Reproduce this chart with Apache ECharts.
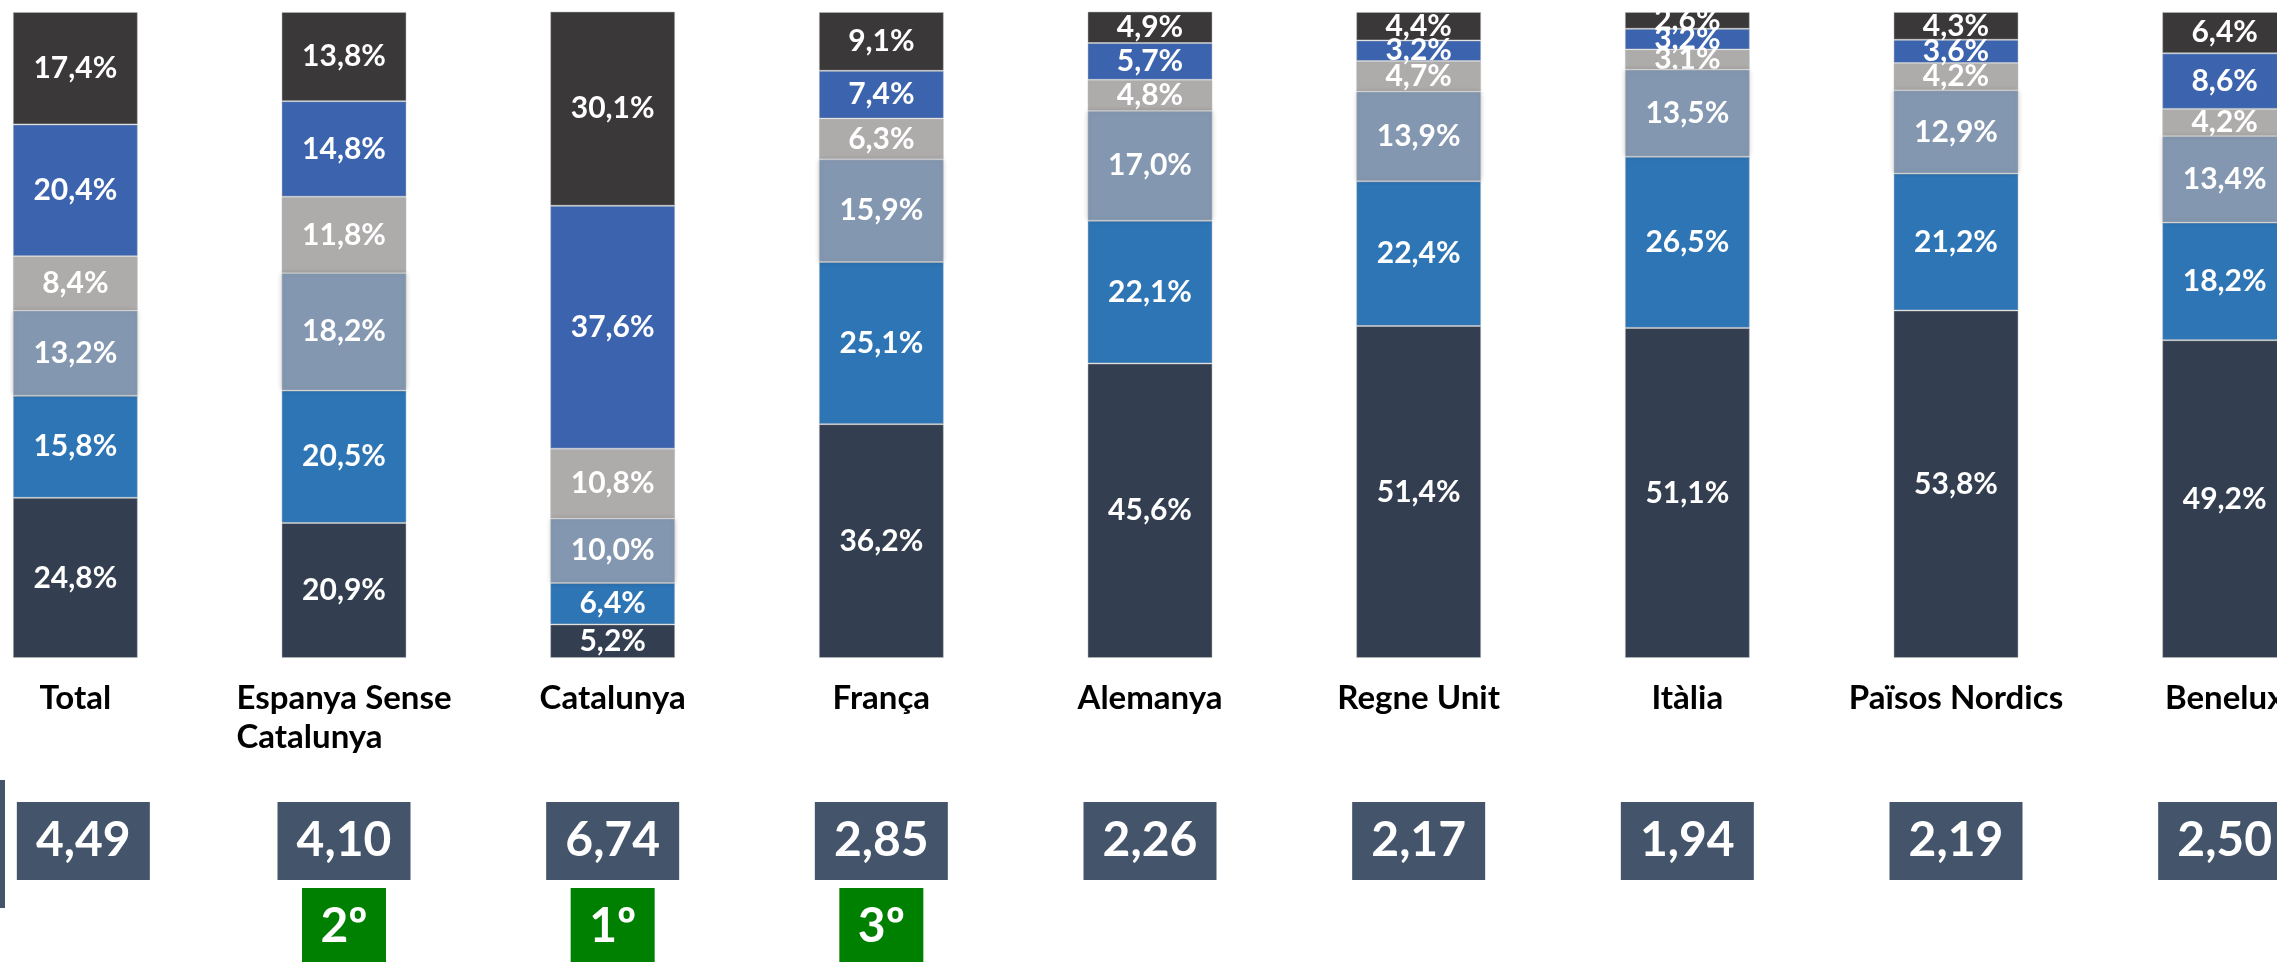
<!DOCTYPE html>
<html>
<head>
<meta charset="utf-8">
<script src="https://cdn.jsdelivr.net/npm/echarts@6/dist/echarts.min.js"></script>
<style>
  html, body { margin: 0; padding: 0; background: #fff; }
  #chart { width: 2277px; height: 962px; }
</style>
</head>
<body>
<div id="chart"></div>
<script>
// categories (países / regions)
const categories = ['Total', 'Espanya Sense\nCatalunya', 'Catalunya', 'França', 'Alemanya',
  'Regne Unit', 'Itàlia', 'Països Nordics', 'Benelux'];

// stacked shares, from the bottom segment to the top one
const seg1 = [24.8, 20.9, 5.2, 36.2, 45.6, 51.4, 51.1, 53.8, 49.2];
const seg2 = [15.8, 20.5, 6.4, 25.1, 22.1, 22.4, 26.5, 21.2, 18.2];
const seg3 = [13.2, 18.2, 10.0, 15.9, 17.0, 13.9, 13.5, 12.9, 13.4];
const seg4 = [8.4, 11.8, 10.8, 6.3, 4.8, 4.7, 3.1, 4.2, 4.2];
const seg5 = [20.4, 14.8, 37.6, 7.4, 5.7, 3.2, 3.2, 3.6, 8.6];
const seg6 = [17.4, 13.8, 30.1, 9.1, 4.9, 4.4, 2.6, 4.3, 6.4];

// index under each bar and ranking badges
const ratios = [4.49, 4.10, 6.74, 2.85, 2.26, 2.17, 1.94, 2.19, 2.50];
const ranks = [null, 2, 1, 3, null, null, null, null, null];

const colors = ['#333F50', '#2E75B6', '#8497B0', '#AEABAB', '#3C64AE', '#3A3838'];
const FONT = 'Lato, "Open Sans", sans-serif';

const comma = (v, d) => v.toFixed(d).replace('.', ',');

const chart = echarts.init(document.getElementById('chart'));

function makeSeries(data, i) {
  const s = {
    type: 'bar',
    stack: 'total',
    data: data,
    barWidth: 125,
    xAxisIndex: 0,
    yAxisIndex: 0,
    itemStyle: {
      color: colors[i],
      borderColor: 'rgba(190,190,190,0.5)',
      borderWidth: 1
    },
    label: {
      show: true,
      position: 'inside',
      color: '#fff',
      fontFamily: FONT,
      fontWeight: 'bold',
      fontSize: 30,
      formatter: p => comma(p.value, 1) + '%'
    },
    emphasis: { disabled: true },
    animation: false
  };
  if (i === 2) {
    // segment with a soft shadow in the original
    s.itemStyle.shadowBlur = 5;
    s.itemStyle.shadowColor = 'rgba(0,0,0,0.22)';
    s.z = 3;
  }
  return s;
}

const option = {
  backgroundColor: '#fff',
  animation: false,
  grid: {
    left: -59, right: -82, top: 12, bottom: 304,
    outerBoundsMode: 'none'
  },
  xAxis: [
    {
      type: 'category',
      data: categories,
      position: 'bottom',
      axisLine: { show: false },
      axisTick: { show: false },
      axisLabel: {
        interval: 0,
        margin: 21,
        formatter: v => v.split('\n').map(s => '{c|' + s + '}').join('\n'),
        rich: {
          c: {
            align: 'left',
            fontFamily: FONT,
            fontWeight: 'bold',
            fontSize: 33,
            lineHeight: 39,
            color: '#000'
          }
        }
      }
    },
    {
      type: 'category',
      data: categories,
      position: 'bottom',
      axisLine: { show: false },
      axisTick: { show: false },
      axisLabel: {
        interval: 0,
        margin: 144,
        // the first box sits a bit to the right, clear of the side rule
        formatter: (v, idx) => (idx === 0 ? '{s|}' : '') + '{b|' + comma(ratios[idx], 2) + '}',
        rich: {
          s: { width: 16, height: 78 },
          b: {
            width: 133,
            height: 78,
            lineHeight: 78,
            align: 'center',
            backgroundColor: '#44546A',
            color: '#fff',
            fontFamily: FONT,
            fontWeight: 'bold',
            fontSize: 48
          }
        }
      }
    },
    {
      type: 'category',
      data: categories,
      position: 'bottom',
      axisLine: { show: false },
      axisTick: { show: false },
      axisLabel: {
        interval: 0,
        margin: 230,
        formatter: (v, idx) => ranks[idx] == null ? '' : '{r|' + ranks[idx] + 'º}',
        rich: {
          r: {
            width: 84,
            height: 78,
            lineHeight: 78,
            align: 'center',
            backgroundColor: '#008000',
            color: '#fff',
            fontFamily: FONT,
            fontWeight: 'bold',
            fontSize: 48
          }
        }
      }
    }
  ],
  yAxis: {
    type: 'value',
    min: 0,
    max: 100,
    show: false,
    splitLine: { show: false }
  },
  graphic: [
    {
      type: 'rect',
      left: 0,
      top: 780,
      shape: { width: 5, height: 128 },
      style: { fill: '#44546A' }
    }
  ],
  series: [seg1, seg2, seg3, seg4, seg5, seg6].map(makeSeries)
};

chart.setOption(option);
</script>
</body>
</html>
